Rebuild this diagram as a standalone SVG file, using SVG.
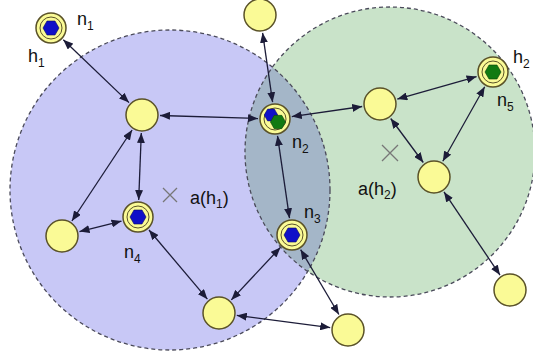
<svg xmlns="http://www.w3.org/2000/svg" width="533" height="361" viewBox="0 0 533 361">
<defs>
<style>
.zone{stroke:#4a4a5a;stroke-width:1.3;stroke-dasharray:4 3}
.node{fill:#fafa96;stroke:#5a5228;stroke-width:1.5}
.inner{fill:#fafa96;stroke:#5a5228;stroke-width:1}
.hb{fill:#1010c8;stroke:#0a0a60;stroke-width:0.6}
.hg{fill:#127a12;stroke:#0a400a;stroke-width:0.6}
.lbl{font-family:"Liberation Sans",Arial,sans-serif;font-size:18px;fill:#111}
.sub{font-size:12px}
.edge{stroke:#1c1c38;stroke-width:1.3;fill:none;marker-start:url(#ah);marker-end:url(#ah)}
.cross{stroke:#777;stroke-width:1.3}
</style>
<marker id="ah" viewBox="0 0 10 8" refX="10" refY="4" markerWidth="10" markerHeight="8" markerUnits="userSpaceOnUse" orient="auto-start-reverse">
<path d="M0,0 L10,4 L0,8 z" fill="#1c1c38"/>
</marker>
<clipPath id="cb"><circle cx="170" cy="190" r="160"/></clipPath>
<polygon id="hex" points="-8,0 -4,-7 4,-7 8,0 4,7 -4,7"/>
</defs>
<g id="areas">
<circle cx="170" cy="190" r="160" fill="#c8c8f6"/>
<circle cx="390" cy="152" r="145" fill="#c9e3c9"/>
<circle cx="390" cy="152" r="145" fill="#a4b6c8" clip-path="url(#cb)"/>
<circle class="zone" cx="170" cy="190" r="160" fill="none"/>
<circle class="zone" cx="390" cy="152" r="145" fill="none"/>
<path class="cross" d="M163,188 L177,202 M177,188 L163,202"/>
<path class="cross" d="M382,145 L398,161 M398,145 L382,161"/>
<text class="lbl" x="190" y="204">a(h<tspan class="sub" dy="4">1</tspan><tspan dy="-4">)</tspan></text>
<text class="lbl" x="358" y="195">a(h<tspan class="sub" dy="4">2</tspan><tspan dy="-4">)</tspan></text>
</g>
<g id="connectors">
<line class="edge" x1="63.3" y1="39.7" x2="129.0" y2="102.6"/>
<line class="edge" x1="160.0" y1="115.5" x2="258.0" y2="118.5"/>
<line class="edge" x1="262.6" y1="32.8" x2="272.6" y2="102.2"/>
<line class="edge" x1="291.8" y1="116.6" x2="362.2" y2="106.5"/>
<line class="edge" x1="397.3" y1="99.1" x2="476.6" y2="76.6"/>
<line class="edge" x1="484.7" y1="86.8" x2="442.8" y2="161.3"/>
<line class="edge" x1="390.7" y1="118.5" x2="423.3" y2="162.5"/>
<line class="edge" x1="444.0" y1="191.9" x2="500.0" y2="275.1"/>
<line class="edge" x1="277.5" y1="135.8" x2="289.5" y2="218.2"/>
<line class="edge" x1="141.3" y1="133.0" x2="138.7" y2="200.0"/>
<line class="edge" x1="132.1" y1="130.0" x2="71.9" y2="221.0"/>
<line class="edge" x1="79.5" y1="231.6" x2="121.5" y2="221.1"/>
<line class="edge" x1="149.0" y1="230.0" x2="207.4" y2="299.2"/>
<line class="edge" x1="280.4" y1="247.4" x2="231.3" y2="299.9"/>
<line class="edge" x1="300.6" y1="249.6" x2="338.9" y2="314.5"/>
<line class="edge" x1="236.8" y1="315.4" x2="330.2" y2="327.6"/>
</g>
<g id="n1">
<circle class="node" cx="51" cy="28" r="15"/>
<circle class="inner" cx="51" cy="28" r="11"/>
<use href="#hex" class="hb" transform="translate(51,28)"/>
<text class="lbl" x="77" y="25">n<tspan class="sub" dy="5">1</tspan></text>
<text class="lbl" x="28" y="62">h<tspan class="sub" dy="5">1</tspan></text>
</g>
<g id="nA"><circle class="node" cx="142" cy="115" r="16"/></g>
<g id="nT"><circle class="node" cx="260" cy="15" r="16"/></g>
<g id="n2">
<circle class="node" cx="275" cy="119" r="15"/>
<circle class="inner" cx="275" cy="119" r="11"/>
<use href="#hex" class="hb" transform="translate(271,115) scale(0.85)"/>
<use href="#hex" class="hg" transform="translate(278,122) scale(0.95)"/>
<text class="lbl" x="292" y="148">n<tspan class="sub" dy="5">2</tspan></text>
</g>
<g id="nB"><circle class="node" cx="380" cy="104" r="16"/></g>
<g id="n5">
<circle class="node" cx="493" cy="72" r="15"/>
<circle class="inner" cx="493" cy="72" r="11"/>
<use href="#hex" class="hg" transform="translate(493,72)"/>
<text class="lbl" x="497" y="106">n<tspan class="sub" dy="5">5</tspan></text>
<text class="lbl" x="513" y="63">h<tspan class="sub" dy="5">2</tspan></text>
</g>
<g id="nC"><circle class="node" cx="434" cy="177" r="16"/></g>
<g id="nD"><circle class="node" cx="510" cy="290" r="16"/></g>
<g id="n3">
<circle class="node" cx="292" cy="235" r="15"/>
<circle class="inner" cx="292" cy="235" r="11"/>
<use href="#hex" class="hb" transform="translate(292,235)"/>
<text class="lbl" x="304" y="218">n<tspan class="sub" dy="5">3</tspan></text>
</g>
<g id="n4">
<circle class="node" cx="138" cy="217" r="15"/>
<circle class="inner" cx="138" cy="217" r="11"/>
<use href="#hex" class="hb" transform="translate(138,217)"/>
<text class="lbl" x="124" y="258">n<tspan class="sub" dy="5">4</tspan></text>
</g>
<g id="nE"><circle class="node" cx="62" cy="236" r="16"/></g>
<g id="nF"><circle class="node" cx="219" cy="313" r="16"/></g>
<g id="nG"><circle class="node" cx="348" cy="330" r="16"/></g>
</svg>
